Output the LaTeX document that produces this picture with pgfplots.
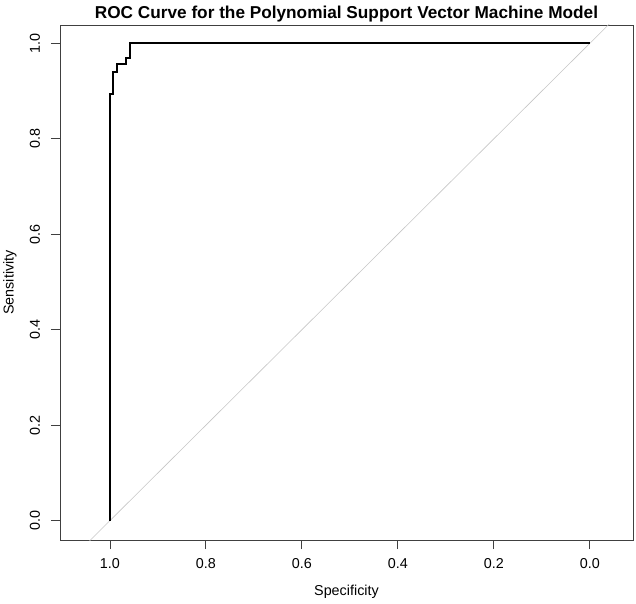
\documentclass[border=0pt]{standalone}
\usepackage{pgfplots}
\pgfplotsset{compat=1.18}
\usepackage{fontspec}
\setmainfont{Liberation Sans}

% ROC curve points (specificity, sensitivity)
\pgfplotstableread{
spec   sens
1.000  0.000
1.000  0.894
0.994  0.894
0.994  0.940
0.985  0.940
0.985  0.957
0.967  0.957
0.967  0.969
0.958  0.969
0.958  1.000
0.000  1.000
}\roc

\begin{document}
\begin{tikzpicture}
\begin{axis}[
  scale only axis,
  width=573bp, height=515bp,
  at={(0,0)}, anchor=south west,
  x dir=reverse,
  xmin=-0.090, xmax=1.104,
  ymin=-0.0405, ymax=1.0385,
  axis line style={black!75, line width=0.8bp},
  xtick={0,0.2,0.4,0.6,0.8,1},
  ytick={0,0.2,0.4,0.6,0.8,1},
  xtick pos=bottom, ytick pos=left,
  tick align=outside,
  major tick length=9bp,
  tick style={black!75, line width=0.8bp},
  /pgf/number format/.cd, fixed, fixed zerofill, precision=1, assume math mode=true,
  /pgfplots/.cd,
  ticklabel style={font=\fontsize{14.4}{16}\selectfont},
  xticklabel style={anchor=center, yshift=-15bp},
  yticklabel style={rotate=90, anchor=center, yshift=16bp},
  xlabel={Specificity},
  ylabel={Sensitivity},
  label style={font=\fontsize{14.4}{16}\selectfont},
  xlabel style={at={(axis description cs:0.5,0)}, anchor=center, yshift=-52bp},
  ylabel style={at={(axis description cs:0,0.5)}, anchor=center, rotate=0, yshift=50bp},
  title={ROC Curve for the Polynomial Support Vector Machine Model},
  title style={font=\fontsize{17.28}{19}\selectfont\bfseries, at={(axis description cs:0.5,1)}, anchor=center, yshift=5bp},
  clip=true,
]
\addplot[gray!45, line width=0.6bp] coordinates {(1.2,-0.2) (-0.2,1.2)};
\addplot[black, line width=2bp, line join=miter] table[x=spec, y=sens] {\roc};
\end{axis}
\pgfresetboundingbox
\path (-60bp,-64bp) rectangle (576bp,540bp);
\end{tikzpicture}
\end{document}
